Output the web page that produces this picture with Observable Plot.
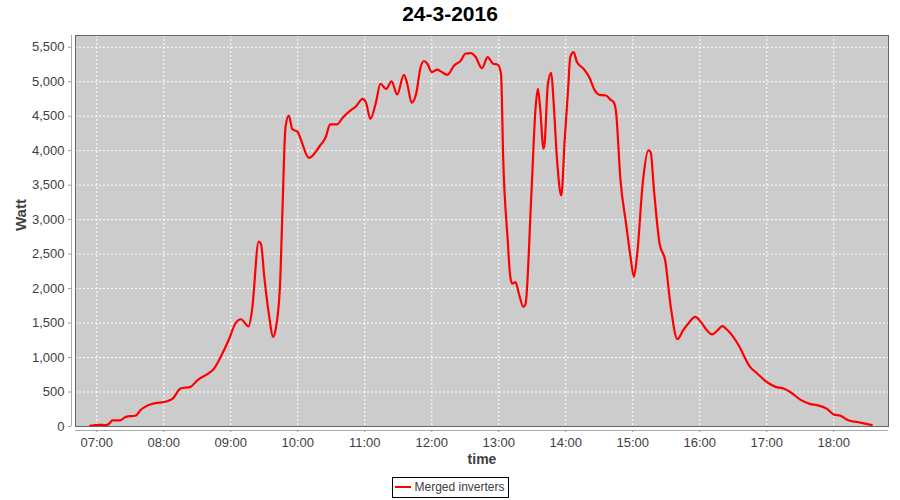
<!DOCTYPE html>
<html>
<head>
<meta charset="utf-8">
<script src="https://cdn.jsdelivr.net/npm/d3@7"></script>
<script src="https://cdn.jsdelivr.net/npm/@observablehq/plot@0.6"></script>
<style>
  html, body { margin: 0; padding: 0; background: #fff; }
  body { width: 900px; height: 500px; overflow: hidden; font-family: "Liberation Sans", sans-serif; }
  #title { height: 28px; line-height: 28px; text-align: center; font-weight: bold; font-size: 21px; color: #000; }
  #chart svg { display: block; }
  #legend { text-align: center; margin-top: 3px; }
  #legend .box { display: inline-block; border: 1px solid #000; height: 19px; padding: 0 3px 0 2px; font-size: 12px; color: #404040; line-height: 19px; margin-left: 1px; }
  #legend .sw { display: inline-block; width: 16px; height: 2px; background: red; vertical-align: middle; margin-right: 3px; position: relative; top: -1px; }
</style>
</head>
<body>
<div id="title">24-3-2016</div>
<div id="chart"></div>
<div id="legend"><span class="box"><span class="sw"></span>Merged inverters</span></div>
<script>
const times = ["06:54","07:02","07:08","07:11","07:14","07:21","07:26","07:35","07:39","07:50","08:03","08:08","08:15","08:24","08:30","08:39","08:45","08:51","08:58","09:04","09:09","09:16","09:19","09:25","09:27","09:30","09:34","09:38","09:40","09:44","09:46","09:49","09:52","09:55","10:00","10:02","10:10","10:20","10:25","10:29","10:35","10:40","10:47","10:52","10:58","11:01","11:05","11:10","11:14","11:19","11:24","11:29","11:35","11:38","11:42","11:46","11:50","11:53","11:56","12:00","12:05","12:08","12:14","12:20","12:26","12:30","12:35","12:39","12:45","12:50","12:55","12:59","13:02","13:04","13:08","13:10","13:12","13:15","13:18","13:22","13:24","13:29","13:33","13:35","13:37","13:40","13:41","13:44","13:47","13:49","13:52","13:55","13:56","13:59","14:02","14:04","14:07","14:10","14:16","14:21","14:26","14:30","14:36","14:40","14:43","14:45","14:49","14:54","14:58","15:01","15:04","15:09","15:14","15:16","15:19","15:24","15:29","15:34","15:40","15:45","15:49","15:56","16:01","16:07","16:11","16:16","16:20","16:25","16:34","16:45","16:51","17:00","17:08","17:15","17:21","17:30","17:39","17:45","17:54","18:00","18:06","18:13","18:21","18:27","18:34"];
const watts = [10,25,20,40,90,90,140,160,235,330,365,405,550,575,670,760,840,1010,1250,1490,1555,1450,1685,2680,2650,2170,1640,1300,1395,2020,2990,4340,4510,4315,4270,4195,3895,4075,4195,4380,4380,4475,4580,4640,4750,4700,4460,4700,4970,4895,5005,4815,5100,4970,4695,4825,5210,5300,5260,5140,5175,5150,5100,5235,5305,5405,5415,5365,5195,5355,5260,5250,5115,3860,2700,2215,2070,2095,1925,1735,1780,3305,4630,4895,4630,4030,4100,4970,5130,4730,3905,3400,3350,4150,4870,5355,5430,5285,5185,5065,4870,4810,4800,4740,4700,4560,3570,2940,2455,2170,2505,3545,4005,3980,3425,2650,2410,1735,1265,1395,1480,1590,1515,1385,1335,1395,1455,1395,1200,865,775,645,575,550,500,390,325,310,255,175,155,90,65,45,20];
const xTickLabels = ["07:00","08:00","09:00","10:00","11:00","12:00","13:00","14:00","15:00","16:00","17:00","18:00"];
const yTicks = [0,500,1000,1500,2000,2500,3000,3500,4000,4500,5000,5500];
const xDomainLabels = ["06:40:56","18:49:00"];
const yMax = 5670;

const parseT = d3.utcParse("%H:%M");
const parseTs = d3.utcParse("%H:%M:%S");
const data = times.map((t, i) => ({time: parseT(t), watt: watts[i]}));
const xTicks = xTickLabels.map(parseT);
const xDomain = xDomainLabels.map(parseTs);

const chart = Plot.plot({
  width: 900,
  height: 446,
  marginLeft: 75,
  marginRight: 12,
  marginTop: 7,
  marginBottom: 48,
  style: {fontFamily: "Liberation Sans, sans-serif", fontSize: "13px", color: "#404040", background: "transparent"},
  x: {type: "utc", domain: xDomain},
  y: {domain: [0, yMax]},
  marks: [
    Plot.frame({fill: "#cccccc", stroke: null}),
    Plot.gridX(xTicks, {stroke: "white", strokeOpacity: 1, strokeWidth: 1, strokeDasharray: "2,2"}),
    Plot.gridY(yTicks, {stroke: "white", strokeOpacity: 1, strokeWidth: 1, strokeDasharray: "2,2"}),
    Plot.line(data, {x: "time", y: "watt", stroke: "red", strokeWidth: 2.2, curve: "monotone-x"}),
    Plot.frame({stroke: "#666666", strokeWidth: 1}),
    Plot.ruleX([xDomain[0]], {dx: -4, stroke: "#aaaaaa"}),
    Plot.ruleY([0], {dy: 4, stroke: "#aaaaaa"}),
    Plot.axisY({ticks: yTicks, tickSize: 3, tickPadding: 4, dx: -4, tickFormat: d3.format(","), label: null, stroke: "#999999", fill: "#404040", fontSize: 13}),
    Plot.axisX({ticks: xTicks, tickSize: 2, tickPadding: 5, dy: 4, tickFormat: d3.utcFormat("%H:%M"), label: null, stroke: "#999999", fill: "#404040", fontSize: 13}),
    Plot.text(["Watt"], {text: d => d, frameAnchor: "left", dx: -54, rotate: -90, fontWeight: "bold", fontSize: 15, fill: "#404040"}),
    Plot.text(["time"], {text: d => d, frameAnchor: "bottom", dy: 37, fontWeight: "bold", fontSize: 14, fill: "#404040"})
  ]
});
document.getElementById("chart").appendChild(chart);
</script>
</body>
</html>
